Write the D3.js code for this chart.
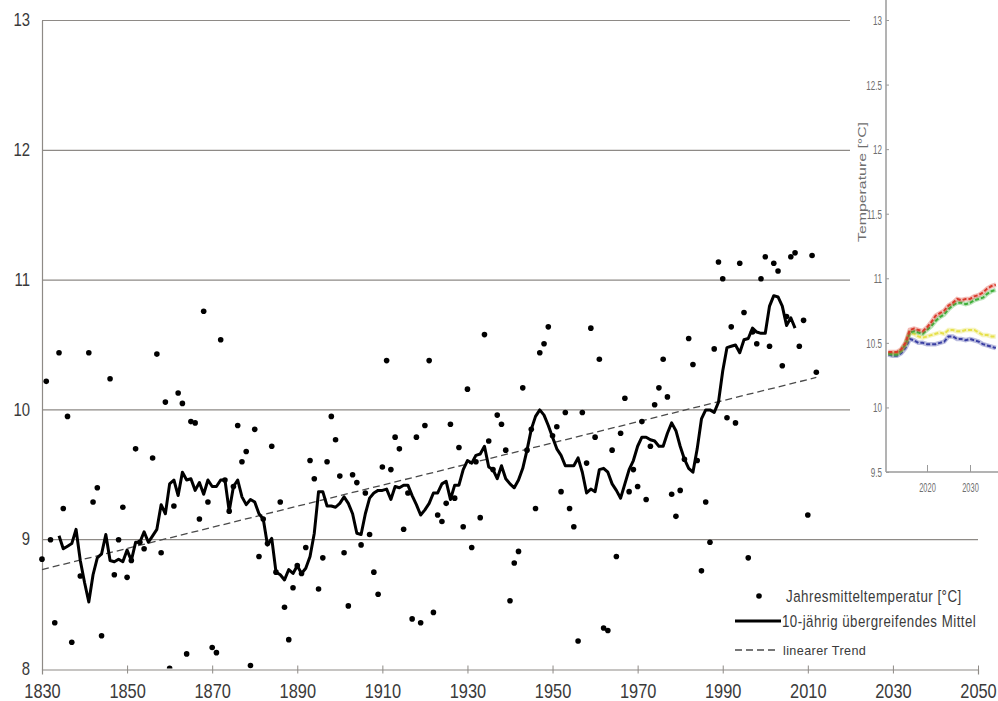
<!DOCTYPE html>
<html>
<head>
<meta charset="utf-8">
<script src="https://cdn.jsdelivr.net/npm/d3@7/dist/d3.min.js"></script>
<style>
  html, body { margin: 0; padding: 0; background: #fff; }
  svg { display: block; font-family: "Liberation Sans", Arial, sans-serif; }
</style>
</head>
<body>
<svg id="chart" width="998" height="701"></svg>
<script>
// ---- Annual mean temperature [°C], one value per year from firstYear ----
const firstYear = 1830;
const annualMean = [
  8.85, 10.22, 9.00, 8.36, 10.44, 9.24, 9.95, 8.21, 7.70, 8.72,   // 1830-1839
  7.90, 10.44, 9.29, 9.40, 8.26, 7.60, 10.24, 8.73, 9.00, 9.25,   // 1840-1849
  8.71, 8.84, 9.70, 8.98, 8.93, 7.70, 9.63, 10.43, 8.90, 10.06,   // 1850-1859
  8.01, 9.26, 10.13, 10.05, 8.12, 9.91, 9.90, 9.16, 10.76, 9.29,  // 1860-1869
  8.17, 8.13, 10.54, 9.46, 9.22, 9.41, 9.88, 9.60, 9.68, 8.03,    // 1870-1879
  9.85, 8.87, 9.16, 8.97, 9.72, 8.75, 9.29, 8.48, 8.23, 8.63,     // 1880-1889
  8.80, 8.74, 8.94, 9.61, 9.47, 8.62, 8.86, 9.60, 9.95, 9.77,     // 1890-1899
  9.49, 8.90, 8.49, 9.50, 9.44, 8.96, 9.36, 9.04, 8.75, 8.58,     // 1900-1909
  9.56, 10.38, 9.54, 9.79, 9.70, 9.08, 9.36, 8.39, 9.79, 8.36,    // 1910-1919
  9.88, 10.38, 8.44, 9.19, 9.14, 9.28, 9.89, 9.32, 9.71, 9.10,    // 1920-1929
  10.16, 8.94, 9.60, 9.17, 10.58, 9.76, 9.54, 9.96, 9.89, 9.69,   // 1930-1939
  8.53, 8.82, 8.91, 10.17, 9.69, 9.85, 9.24, 10.44, 10.51, 10.64, // 1940-1949
  9.80, 9.87, 9.37, 9.98, 9.24, 9.10, 8.22, 9.98, 9.59, 10.63,    // 1950-1959
  9.79, 10.39, 8.32, 8.30, 9.69, 8.87, 9.82, 10.09, 9.37, 9.54,   // 1960-1969
  9.41, 9.91, 9.31, 9.72, 10.04, 10.17, 10.39, 10.10, 9.35, 9.18, // 1970-1979
  9.38, 9.62, 10.55, 10.35, 9.61, 8.76, 9.29, 8.98, 10.47, 11.14, // 1980-1989
  11.01, 9.94, 10.64, 9.90, 11.13, 10.75, 8.86, 10.60, 10.51, 11.01, // 1990-1999
  11.18, 10.49, 11.13, 11.07, 10.34, 10.72, 11.18, 11.21, 10.49, 10.69, // 2000-2009
  9.19, 11.19, 10.29                                              // 2010-2012
];

// ---- 10-year overlapping mean, one value per year from meanStart ----
const meanStart = 1834;
const runningMean = [
  9.03, 8.93, 8.95, 8.97, 9.08, 8.84,                             // 1834-1839
  8.67, 8.52, 8.73, 8.86, 8.89, 9.04, 8.84, 8.83, 8.85, 8.83,     // 1840-1849
  8.92, 8.84, 8.98, 8.98, 9.06, 8.98, 9.03, 9.08, 9.27, 9.20,     // 1850-1859
  9.43, 9.46, 9.34, 9.52, 9.46, 9.47, 9.38, 9.44, 9.35, 9.46,     // 1860-1869
  9.41, 9.41, 9.46, 9.46, 9.22, 9.41, 9.46, 9.33, 9.27, 9.31,     // 1870-1879
  9.29, 9.20, 9.16, 8.96, 9.01, 8.75, 8.73, 8.69, 8.77, 8.74,     // 1880-1889
  8.80, 8.74, 8.78, 8.87, 9.05, 9.37, 9.37, 9.26, 9.26, 9.25,     // 1890-1899
  9.28, 9.33, 9.28, 9.20, 9.05, 9.04, 9.20, 9.32, 9.36, 9.38,     // 1900-1909
  9.38, 9.39, 9.31, 9.41, 9.40, 9.42, 9.42, 9.34, 9.27, 9.19,     // 1910-1919
  9.23, 9.28, 9.36, 9.36, 9.43, 9.45, 9.31, 9.42, 9.42, 9.54,     // 1920-1929
  9.61, 9.59, 9.65, 9.66, 9.72, 9.56, 9.54, 9.47, 9.57, 9.47,     // 1930-1939
  9.43, 9.40, 9.46, 9.55, 9.69, 9.85, 9.95, 10.00, 9.96, 9.88,    // 1940-1949
  9.79, 9.70, 9.65, 9.57, 9.57, 9.57, 9.63, 9.52, 9.36, 9.39,     // 1950-1959
  9.37, 9.54, 9.55, 9.52, 9.43, 9.38, 9.32, 9.43, 9.54, 9.61,     // 1960-1969
  9.72, 9.79, 9.79, 9.77, 9.76, 9.72, 9.72, 9.82, 9.90, 9.84,     // 1970-1979
  9.72, 9.62, 9.55, 9.52, 9.70, 9.93, 10.00, 10.00, 9.98, 10.06,  // 1980-1989
  10.30, 10.48, 10.49, 10.50, 10.44, 10.54, 10.55, 10.63, 10.60, 10.59, // 1990-1999
  10.59, 10.80, 10.88, 10.87, 10.80, 10.65, 10.71, 10.63          // 2000-2007
];

// ---- Linear trend end points ----
const trendYears = [1830, 2012];
const trendValues = [8.77, 10.25];

// ---- Axes ----
const xTicks = [1830, 1850, 1870, 1890, 1910, 1930, 1950, 1970, 1990, 2010, 2030, 2050];
const yTicks = [8, 9, 10, 11, 12, 13];

// ---- Legend ----
const legendLabels = [
  "Jahresmitteltemperatur [°C]",
  "10-jährig übergreifendes Mittel",
  "linearer Trend"
];

// ---- Scenario panel (projected temperature), one value per year from scenarioStart ----
const scenarioStart = 2011;
const scenarioRed = [
  10.43, 10.43, 10.43, 10.45, 10.50, 10.60, 10.61, 10.60, 10.59, 10.62,
  10.66, 10.71, 10.73, 10.75, 10.79, 10.81, 10.84, 10.83, 10.84, 10.84,
  10.86, 10.87, 10.89, 10.92, 10.94, 10.95
];
const scenarioGreen = [
  10.42, 10.41, 10.41, 10.44, 10.49, 10.58, 10.59, 10.58, 10.57, 10.60,
  10.63, 10.67, 10.70, 10.72, 10.76, 10.79, 10.81, 10.81, 10.80, 10.81,
  10.83, 10.84, 10.85, 10.88, 10.90, 10.91
];
const scenarioYellow = [
  10.42, 10.42, 10.42, 10.44, 10.49, 10.58, 10.57, 10.55, 10.54, 10.55,
  10.56, 10.57, 10.58, 10.57, 10.60, 10.60, 10.59, 10.59, 10.60, 10.60,
  10.60, 10.58, 10.56, 10.56, 10.55, 10.55
];
const scenarioBlue = [
  10.41, 10.40, 10.40, 10.42, 10.46, 10.53, 10.52, 10.50, 10.50, 10.49,
  10.49, 10.49, 10.50, 10.51, 10.55, 10.55, 10.53, 10.53, 10.52, 10.53,
  10.52, 10.51, 10.49, 10.48, 10.47, 10.46
];
const scenarioColors = ["#d93a2b", "#3fae3a", "#e6e04a", "#3a3fa3"];
const insetYTicks = [9.5, 10, 10.5, 11, 11.5, 12, 12.5, 13];
const insetXTicks = [2020, 2030];

// ================= drawing =================
const svg = d3.select("#chart");
const W = 998, H = 701;

const x = d3.scaleLinear().domain([1830, 2050]).range([42, 978]);
const y = d3.scaleLinear().domain([8, 13]).range([669.5, 20.5]);

const gridColor = "#8e8a86";
const textColor = "#3a3a3a";

// horizontal grid lines
svg.append("g")
  .selectAll("line")
  .data(yTicks.filter(t => t > 8))
  .join("line")
  .attr("x1", x(1830)).attr("x2", x(2050))
  .attr("y1", d => y(d)).attr("y2", d => y(d))
  .attr("stroke", gridColor).attr("stroke-width", 1.2);

// x axis with small ticks
const xAxis = d3.axisBottom(x).tickValues(xTicks).tickSize(5).tickFormat(d3.format("d"));
const gx = svg.append("g").attr("transform", `translate(0,${y(8)})`).call(xAxis);
gx.select(".domain").attr("stroke", gridColor).attr("stroke-width", 1.2);
gx.selectAll(".tick line").attr("stroke", gridColor).attr("y1", -4).attr("y2", 4);
gx.selectAll(".tick text")
  .attr("fill", textColor)
  .attr("font-size", 20)
  .attr("dy", 0)
  .attr("y", 0)
  .attr("transform", "translate(0,28.5) scale(0.82,1)");

// y axis line and labels
const yAxis = d3.axisLeft(y).tickValues(yTicks).tickSize(0).tickPadding(0).tickFormat(d3.format("d"));
const gy = svg.append("g").attr("transform", `translate(${x(1830)},0)`).call(yAxis);
gy.select(".domain").attr("stroke", gridColor).attr("stroke-width", 1.2);
gy.selectAll(".tick text")
  .attr("fill", textColor)
  .attr("font-size", 17.5)
  .attr("x", 0)
  .attr("dy", "0.3em")
  .attr("text-anchor", "end")
  .attr("transform", "translate(-12,0) scale(0.85,1)");

// clipping for the data marks
svg.append("clipPath").attr("id", "plotClip")
  .append("rect").attr("x", 30).attr("y", y(13) - 5)
  .attr("width", x(2050) - 30).attr("height", y(8) - y(13) + 4);

const marks = svg.append("g").attr("clip-path", "url(#plotClip)");

// linear trend
const trendData = trendYears.map((yr, i) => ({ year: yr, value: trendValues[i] }));
marks.append("path")
  .datum(trendData)
  .attr("d", d3.line().x(d => x(d.year)).y(d => y(d.value)))
  .attr("fill", "none")
  .attr("stroke", "#4a4a4a")
  .attr("stroke-width", 1.3)
  .attr("stroke-dasharray", "7,4");

// 10-year mean
const meanData = runningMean.map((v, i) => ({ year: meanStart + i, value: v }));
marks.append("path")
  .datum(meanData)
  .attr("d", d3.line().x(d => x(d.year)).y(d => y(d.value)))
  .attr("fill", "none")
  .attr("stroke", "#000")
  .attr("stroke-width", 3)
  .attr("stroke-linejoin", "round");

// annual means
const annualData = annualMean.map((v, i) => ({ year: firstYear + i, value: v }));
marks.append("g")
  .selectAll("circle")
  .data(annualData)
  .join("circle")
  .attr("cx", d => x(d.year))
  .attr("cy", d => y(d.value))
  .attr("r", 2.8)
  .attr("fill", "#000");

// legend
const lg = svg.append("g");
const legendRows = [596, 621, 650];
lg.append("circle").attr("cx", 759).attr("cy", legendRows[0]).attr("r", 2.8).attr("fill", "#000");
lg.append("line").attr("x1", 735).attr("x2", 781).attr("y1", legendRows[1]).attr("y2", legendRows[1])
  .attr("stroke", "#000").attr("stroke-width", 3);
lg.append("line").attr("x1", 735).attr("x2", 779).attr("y1", legendRows[2]).attr("y2", legendRows[2])
  .attr("stroke", "#4a4a4a").attr("stroke-width", 1.3).attr("stroke-dasharray", "7,4");
const legendText = [
  { x: 786, size: 16.5, sx: 0.81 },
  { x: 782, size: 16.5, sx: 0.805 },
  { x: 783, size: 13, sx: 0.97 }
];
legendLabels.forEach((label, i) => {
  lg.append("text")
    .attr("transform", `translate(${legendText[i].x},${legendRows[i] + legendText[i].size * 0.35}) scale(${legendText[i].sx},1)`)
    .attr("font-size", legendText[i].size)
    .attr("fill", textColor)
    .attr("letter-spacing", i < 2 ? 0.6 : 0.4)
    .text(label);
});

// ================= scenario panel =================
const inset = svg.append("g");
inset.append("rect").attr("x", 850).attr("y", 0).attr("width", W - 850).attr("height", 512).attr("fill", "#fff");

const ix = d3.scaleLinear().domain([2020, 2030]).range([927, 970]);
const iy = d3.scaleLinear().domain([9.5, 13]).range([472, 20]);
const insetColor = "#6e6e6e";
const axisX0 = 886;

const iyAxis = d3.axisLeft(iy).tickValues(insetYTicks).tickSize(0).tickPadding(0)
  .tickFormat(d => String(d));
const giy = inset.append("g").attr("transform", `translate(${axisX0},0)`).call(iyAxis);
giy.select(".domain").remove();
inset.append("line").attr("x1", axisX0).attr("x2", axisX0).attr("y1", 0).attr("y2", iy(9.5))
  .attr("stroke", "#9a9a9a").attr("stroke-width", 1.5);
giy.selectAll(".tick").append("line").attr("x1", 0).attr("x2", 3).attr("stroke", "#9a9a9a");
giy.selectAll(".tick text")
  .attr("fill", insetColor)
  .attr("font-size", 13)
  .attr("x", 0).attr("dy", "0.35em")
  .attr("transform", "translate(-4,0) scale(0.62,1)");

inset.append("line").attr("x1", axisX0).attr("x2", W).attr("y1", iy(9.5)).attr("y2", iy(9.5))
  .attr("stroke", "#9a9a9a").attr("stroke-width", 1.5);
const gix = inset.append("g").attr("transform", `translate(0,${iy(9.5)})`)
  .call(d3.axisBottom(ix).tickValues(insetXTicks).tickSize(0).tickPadding(0).tickFormat(d3.format("d")));
gix.select(".domain").remove();
gix.selectAll(".tick").append("line").attr("y1", -7).attr("y2", 0).attr("stroke", "#9a9a9a");
gix.selectAll(".tick text")
  .attr("fill", insetColor)
  .attr("font-size", 12)
  .attr("y", 0).attr("dy", 0)
  .attr("transform", "translate(0,20) scale(0.62,1)");

inset.append("text")
  .attr("transform", "translate(866,182) rotate(-90)")
  .attr("text-anchor", "middle")
  .attr("font-size", 11)
  .attr("fill", insetColor)
  .attr("textLength", 120)
  .attr("lengthAdjust", "spacingAndGlyphs")
  .text("Temperature [°C]");

const scenarios = [scenarioRed, scenarioGreen, scenarioYellow, scenarioBlue];
const scenLine = d3.line().x(d => ix(d.year)).y(d => iy(d.value));
scenarios.slice().reverse().forEach((series, ri) => {
  const k = scenarios.length - 1 - ri;
  const data = series.map((v, i) => ({ year: scenarioStart + i, value: v }));
  inset.append("path").datum(data).attr("d", scenLine)
    .attr("fill", "none").attr("stroke", scenarioColors[k]).attr("stroke-opacity", 0.35)
    .attr("stroke-width", 4.5);
  inset.append("path").datum(data).attr("d", scenLine)
    .attr("fill", "none").attr("stroke", scenarioColors[k])
    .attr("stroke-width", 2).attr("stroke-dasharray", "4,2");
});
</script>
</body>
</html>
